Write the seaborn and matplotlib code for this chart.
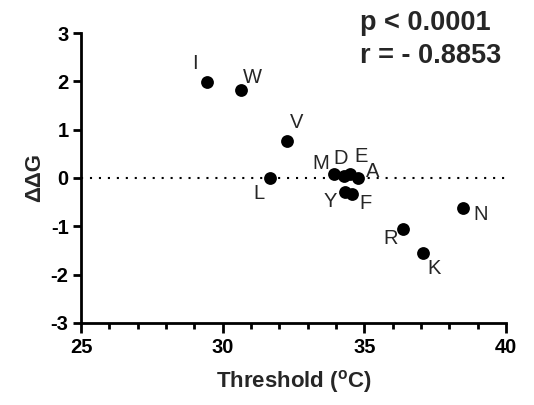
import numpy as np
import pandas as pd
import matplotlib
matplotlib.use("Agg")
import matplotlib.pyplot as plt
import seaborn as sns

# valeurs
residues = ['I', 'W', 'V', 'L', 'M', 'D', 'E', 'A', 'Y', 'F', 'R', 'K', 'N']
threshold = [29.45, 30.65, 32.27, 31.68, 33.94, 34.27, 34.5, 34.77, 34.3, 34.56, 36.37, 37.07, 38.47]
ddg = [1.99, 1.83, 0.77, 0.0, 0.08, 0.04, 0.09, 0.0, -0.28, -0.33, -1.05, -1.55, -0.63]
xticks = list(range(25, 41))
yticks = [-3, -2, -1, 0, 1, 2, 3]

# décalage des étiquettes (points)
offsets = {'I': (-9, 13), 'W': (8, 9), 'V': (7, 13), 'L': (-8, -11), 'M': (-10, 8),
           'D': (-2, 13), 'E': (8, 12), 'A': (11, 5), 'Y': (-10, -7), 'F': (10, -7),
           'R': (-9, -7), 'K': (8, -11), 'N': (13, -4)}

df = pd.DataFrame({'Threshold': threshold, 'ddG': ddg, 'res': residues})

sns.set_style("ticks")
plt.rcParams['font.family'] = ['Liberation Sans', 'DejaVu Sans']
plt.rcParams['font.weight'] = 'bold'
plt.rcParams['axes.unicode_minus'] = False
plt.rcParams['xtick.bottom'] = True
plt.rcParams['xtick.direction'] = 'out'

fig = plt.figure(figsize=(5.34, 4.05), dpi=100)
ax = fig.add_axes([0.1517, 0.2025, 0.7959, 0.716])

ax.plot([25, 40], [0, 0], color='black', lw=1.5, linestyle=(0, (1, 3.3)), zorder=1)
sns.scatterplot(data=df, x='Threshold', y='ddG', color='black', s=85, edgecolor='black',
                linewidth=0, ax=ax, zorder=3)

for r, x, y in zip(residues, threshold, ddg):
    ax.annotate(r, (x, y), xytext=offsets[r], textcoords='offset points',
                ha='center', va='center', fontsize=14.5, fontweight='normal')

sns.despine(ax=ax)
ax.set_xlim(25, 40)
ax.set_ylim(-3, 3)
ax.set_xticks(xticks)
ax.set_xticklabels([str(v) if v % 5 == 0 else '' for v in xticks])
ax.set_yticks(yticks)
ax.tick_params(axis='x', which='major', bottom=True, direction='out', width=2, length=7.5,
               labelsize=14.5, pad=3, color='black', labelcolor='black')
ax.tick_params(axis='y', which='major', width=2, length=6, labelsize=14.5, pad=3,
               color='black', labelcolor='black')
# ticks intermédiaires plus courts
for v, t in zip(xticks, ax.xaxis.get_major_ticks()):
    if v % 5 != 0:
        t.tick1line.set_markersize(4.5)
for sp in ['left', 'bottom']:
    ax.spines[sp].set_linewidth(2)
    ax.spines[sp].set_color('black')

ax.set_xlabel('Threshold ($\\mathregular{^{o}}$C)', fontsize=16, fontweight='bold', labelpad=8)
ax.set_ylabel('ΔΔG', fontsize=16, fontweight='bold', labelpad=4)

fig.text(0.674, 0.975, 'p < 0.0001', fontsize=19.5, fontweight='bold', ha='left', va='top')
fig.text(0.674, 0.895, 'r = - 0.8853', fontsize=19.5, fontweight='bold', ha='left', va='top')

fig.savefig('out.png', dpi=100)
